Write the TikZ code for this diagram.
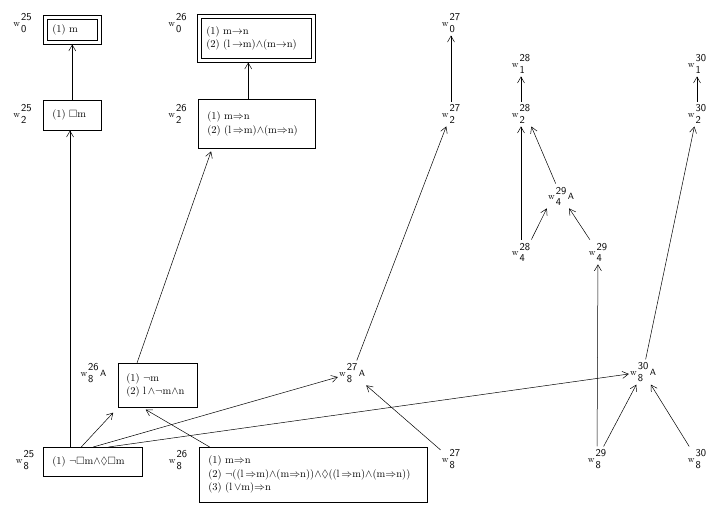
\documentclass[tikz,border=0pt]{standalone}
\usepackage{amssymb}
\usetikzlibrary{arrows.meta}

\newcommand{\wname}[2]{{\small w}\hspace{1pt}\raisebox{-6pt}{\shortstack[l]{\fontsize{10.5}{12}\sffamily #1\\[1pt]\fontsize{10.5}{12}\sffamily #2}}}
\newcommand{\wA}{\hspace{1.5pt}\raisebox{0pt}{\sffamily\small A}}

\tikzset{
  world/.style={draw, anchor=north west, align=left, inner xsep=9pt, font=\fontsize{10.5}{13.5}\selectfont},
  topworld/.style={world, inner xsep=5pt},
  frame/.style={draw},
  wlab/.style={inner xsep=1pt, inner ysep=3pt},
}

\begin{document}
\begin{tikzpicture}[x=1pt, y=-1pt, line width=0.5pt, >={Straight Barb[length=6pt,width=7pt]}]
  \useasboundingbox (0,0) rectangle (725,516);

  % boxes
  \node[topworld, text width=40pt, minimum height=21pt] (b25o) at (47,19) {(1) m};
  \draw[frame] ([xshift=-4pt,yshift=4pt]b25o.north west) rectangle ([xshift=4pt,yshift=-4pt]b25o.south east);
  \node[world, text width=40pt, minimum height=30pt] (b25t) at (43,100) {(1) $\Box$m};
  \node[world, text width=81pt, minimum height=29pt] (b25e) at (43,447) {(1) $\neg\Box$m$\wedge\Diamond\Box$m};
  \node[topworld, text width=100pt, minimum height=40pt] (b26o) at (201,18)
    {(1) m$\rightarrow$n\\(2) (l$\,\rightarrow$m)$\wedge$(m$\rightarrow$n)};
  \draw[frame] ([xshift=-4pt,yshift=4pt]b26o.north west) rectangle ([xshift=4pt,yshift=-4pt]b26o.south east);
  \node[world, text width=99pt, minimum height=49pt] (b26t) at (198,99)
    {(1) m$\Rightarrow$n\\(2) (l$\,\Rightarrow$m)$\wedge$(m$\Rightarrow$n)};
  \node[world, text width=63pt, minimum height=44pt, inner xsep=8pt] (b26a) at (118,363)
    {(1) $\neg$m\\(2) l$\,\wedge\neg$m$\wedge$n};
  \node[world, text width=210pt, minimum height=55pt] (b26e) at (199,447)
    {(1) m$\Rightarrow$n\\(2) $\neg$((l$\,\Rightarrow$m)$\wedge$(m$\Rightarrow$n))$\wedge\Diamond$((l$\,\Rightarrow$m)$\wedge$(m$\Rightarrow$n))\\(3) (l$\,\vee$m)$\Rightarrow$n};

  % world labels
  \node[wlab] (l25o) at (22.5,23) {\wname{25}{0}};
  \node[wlab] (l25t) at (22.5,114) {\wname{25}{2}};
  \node[wlab] (l25e) at (25,460) {\wname{25}{8}};
  \node[wlab] (l26o) at (177.5,23) {\wname{26}{0}};
  \node[wlab] (l26t) at (177.5,114) {\wname{26}{2}};
  \node[wlab] (l26a) at (93.5,373) {\wname{26}{8}\wA};
  \node[wlab] (l26e) at (178,460) {\wname{26}{8}};
  \node[wlab] (l27o) at (451,23) {\wname{27}{0}};
  \node[wlab] (l27t) at (451,114) {\wname{27}{2}};
  \node[wlab] (l27a) at (352,373) {\wname{27}{8}\wA};
  \node[wlab] (l27e) at (451,459) {\wname{27}{8}};
  \node[wlab] (l28a) at (521,64) {\wname{28}{1}};
  \node[wlab] (l28b) at (521,114) {\wname{28}{2}};
  \node[wlab] (l28c) at (521,252) {\wname{28}{4}};
  \node[wlab] (l29a) at (561,196) {\wname{29}{4}\wA};
  \node[wlab] (l29b) at (598,252) {\wname{29}{4}};
  \node[wlab] (l29c) at (597,459) {\wname{29}{8}};
  \node[wlab] (l30a) at (643,372) {\wname{30}{8}\wA};
  \node[wlab] (l30b) at (697,459) {\wname{30}{8}};
  \node[wlab] (l30c) at (697,114) {\wname{30}{2}};
  \node[wlab] (l30d) at (697,64) {\wname{30}{1}};

  % accessibility
  \draw[->, shorten >=4pt] (b25t.north) -- (b25t.north |- b25o.south);
  \draw[->] (b25e.147) -- (b25e.147 |- b25t.south);
  \draw[->, shorten >=4pt] (b26t.109) -- (b26t.109 |- b26o.south);
  \draw[->, shorten >=3pt] (b26a.133) -- (b26t.209);
  \draw[->, shorten >=7pt] (b25e.128) -- (b26a.south west);
  \draw[->, shorten >=4pt] (b26e.165) -- (b26a.235);
  \draw[->] (b25e.88) -- (l27a);
  \draw[->] (b25e.43) -- (l30a);
  \draw[->] (l27t) -- (l27o);
  \draw[->] (l27a) -- (l27t);
  \draw[->] (l27e) -- (l27a);
  \draw[->] (l28b) -- (l28a);
  \draw[->] (l28c.north) -- (l28b.south);
  \draw[->] (l29a) -- (l28b.south east);
  \draw[->] (l28c.north east) -- (l29a.south west);
  \draw[->] (l29b) -- (l29a);
  \draw[->] (l29c) -- (l29b);
  \draw[->] (l29c) -- (l30a);
  \draw[->] (l30b) -- (l30a);
  \draw[->] (l30a) -- (l30c);
  \draw[->] (l30c) -- (l30d);
\end{tikzpicture}
\end{document}
